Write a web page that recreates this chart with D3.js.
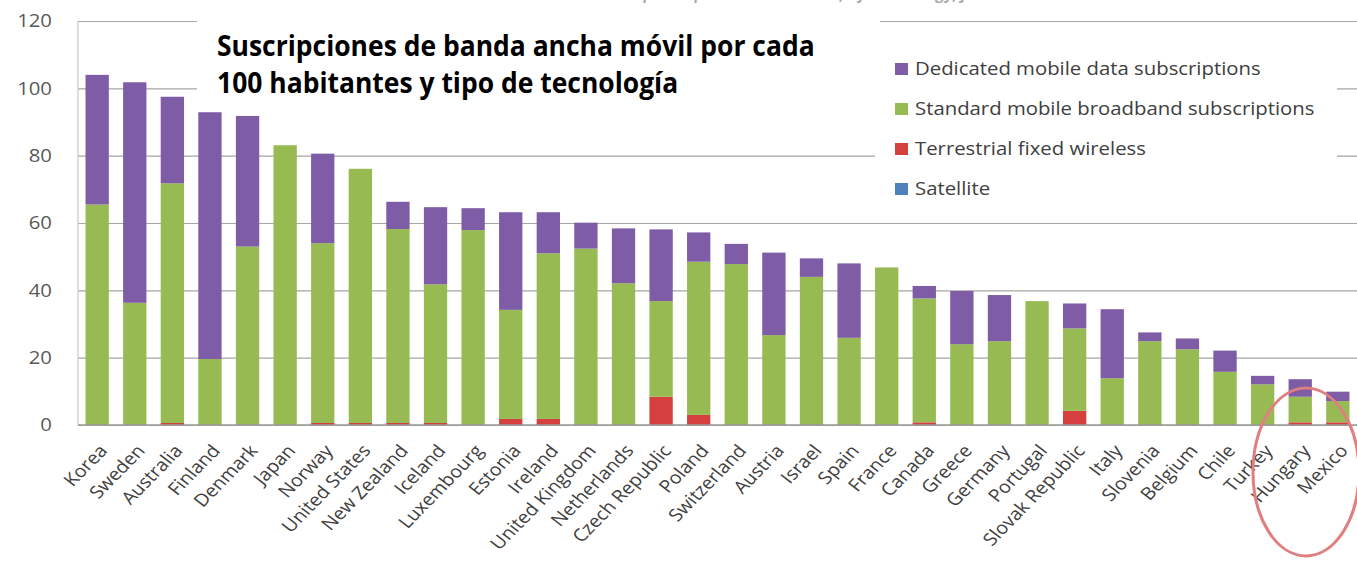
<!DOCTYPE html>
<html>
<head>
<meta charset="utf-8">
<script src="https://cdn.jsdelivr.net/npm/d3@7"></script>
<style>
  body { margin: 0; background: #fff; }
  svg { display: block; font-family: "Open Sans", sans-serif; }
</style>
</head>
<body>
<div id="chart-area"></div>
<script>
// datos (suscripciones por cada 100 habitantes)
var countries = ["Korea", "Sweden", "Australia", "Finland", "Denmark", "Japan", "Norway",
    "United States", "New Zealand", "Iceland", "Luxembourg", "Estonia", "Ireland",
    "United Kingdom", "Netherlands", "Czech Republic", "Poland", "Switzerland", "Austria",
    "Israel", "Spain", "France", "Canada", "Greece", "Germany", "Portugal",
    "Slovak Republic", "Italy", "Slovenia", "Belgium", "Chile", "Turkey", "Hungary", "Mexico"];

var satellite   = [0, 0, 0, 0, 0, 0, 0, 0, 0, 0, 0, 0, 0, 0, 0, 0, 0, 0, 0, 0, 0, 0, 0, 0, 0, 0, 0, 0, 0, 0, 0, 0, 0, 0];
var terrestrial = [0, 0, 0.6, 0, 0, 0, 0.6, 0.6, 0.6, 0.6, 0, 1.8, 1.8, 0, 0, 8.4, 3.0, 0, 0, 0, 0, 0, 0.8, 0, 0, 0, 4.2, 0, 0, 0, 0, 0, 0.8, 0.8];
var standard    = [65.5, 36.3, 71.2, 19.6, 53.0, 83.1, 53.4, 75.5, 57.6, 41.2, 57.9, 32.4, 49.2, 52.4, 42.1, 28.4, 45.5, 47.8, 26.7, 44.0, 25.9, 46.8, 36.8, 24.0, 24.9, 36.8, 24.5, 13.9, 24.9, 22.5, 15.8, 12.1, 7.6, 6.3];
var dedicated   = [38.5, 65.5, 25.7, 73.3, 38.8, 0, 26.6, 0, 8.1, 22.9, 6.5, 29.0, 12.2, 7.7, 16.3, 21.3, 8.7, 6.0, 24.5, 5.5, 22.1, 0, 3.7, 15.8, 13.7, 0, 7.4, 20.5, 2.6, 3.2, 6.3, 2.5, 5.2, 2.8];

var yTicks = [0, 20, 40, 60, 80, 100, 120];

var seriesNames = ["Dedicated mobile data subscriptions", "Standard mobile broadband subscriptions",
    "Terrestrial fixed wireless", "Satellite"];
var titleLines = ["Suscripciones de banda ancha móvil por cada", "100 habitantes y tipo de tecnología"];

// colores de cada serie
var colors = {
    satellite: "#4f81bd",
    terrestrial: "#d5403f",
    standard: "#97bb52",
    dedicated: "#7e5ca6"
};

var W = 1357, H = 562;
var plot = { left: 78, right: 1357, top: 21, bottom: 425 };
var stretch = 1.13; // la imagen original esta estirada a lo ancho

var svg = d3.select("#chart-area")
    .append("svg")
    .attr("width", W)
    .attr("height", H);

// tabla para apilar
var table = countries.map(function(c, i) {
    return {
        country: c,
        satellite: satellite[i],
        terrestrial: terrestrial[i],
        standard: standard[i],
        dedicated: dedicated[i]
    };
});
var keys = ["satellite", "terrestrial", "standard", "dedicated"];
var stacked = d3.stack().keys(keys)(table);

var x = d3.scaleBand()
    .domain(countries)
    .range([plot.left, plot.right])
    .paddingInner(0.38)
    .paddingOuter(0.2);

var y = d3.scaleLinear()
    .domain([0, 120])
    .range([plot.bottom, plot.top]);

// lineas de cuadricula
svg.append("g")
    .attr("transform", "translate(" + plot.left + ",0)")
    .call(d3.axisLeft(y).tickValues(yTicks).tickSize(-(plot.right - plot.left)).tickFormat(""))
    .call(function(g) {
        g.select(".domain").remove();
        g.selectAll("line").attr("stroke", "#a6a6a6").attr("stroke-width", 1.2);
    });

// eje vertical
svg.append("line")
    .attr("x1", plot.left).attr("x2", plot.left)
    .attr("y1", plot.top).attr("y2", plot.bottom)
    .attr("stroke", "#c8c8c8").attr("stroke-width", 1.2);

// barras apiladas
svg.append("g")
    .selectAll("g")
    .data(stacked)
    .enter().append("g")
    .attr("fill", function(d) { return colors[d.key]; })
    .selectAll("rect")
    .data(function(d) { return d; })
    .enter().append("rect")
    .attr("x", function(d) { return x(d.data.country); })
    .attr("y", function(d) { return y(d[1]); })
    .attr("width", x.bandwidth())
    .attr("height", function(d) { return Math.max(0, y(d[0]) - y(d[1])); });

// linea del cero
svg.append("line")
    .attr("x1", plot.left).attr("x2", plot.right)
    .attr("y1", y(0)).attr("y2", y(0))
    .attr("stroke", "#9a9a9a").attr("stroke-width", 1.3);

// etiquetas del eje Y
svg.append("g")
    .selectAll("text")
    .data(yTicks)
    .enter().append("text")
    .attr("transform", function(d) { return "translate(52," + y(d) + ") scale(" + stretch + ",1)"; })
    .attr("dy", "0.35em")
    .attr("text-anchor", "end")
    .attr("fill", "#595959")
    .style("font-size", "18px")
    .text(function(d) { return d; });

// etiquetas de paises (rotadas)
svg.append("g")
    .selectAll("text")
    .data(countries)
    .enter().append("text")
    .attr("transform", function(d) {
        return "translate(" + (x(d) + x.bandwidth() / 2 + 3) + ",445) scale(" + stretch + ",1) rotate(-49)";
    })
    .attr("dy", "0.55em")
    .attr("text-anchor", "end")
    .attr("fill", "#404040")
    .style("font-size", "17.5px")
    .text(function(d) { return d; });

// restos del titulo original (casi tapado)
svg.append("text")
    .attr("x", 740)
    .attr("y", 0)
    .attr("text-anchor", "middle")
    .attr("fill", "#aaa")
    .style("font-size", "15px")
    .style("font-weight", "bold")
    .text("Mobile broadband subscriptions per 100 inhabitants, by technology, June 2012");

// recuadro blanco del titulo
svg.append("rect")
    .attr("x", 197).attr("y", 12)
    .attr("width", 683).attr("height", 100)
    .attr("fill", "#fff");

var title = svg.append("g")
    .selectAll("text")
    .data(titleLines)
    .enter().append("text")
    .attr("fill", "#000")
    .style("font-size", "29px")
    .style("font-weight", "bold")
    .text(function(d) { return d; });

// ajustar el ancho del titulo al de la imagen
var firstLen = title.node().getComputedTextLength();
var titleScale = 598 / firstLen;
title.attr("transform", function(d, i) {
    return "translate(217," + (56 + i * 37) + ") scale(" + titleScale + ",1)";
});

// leyenda
svg.append("rect")
    .attr("x", 875).attr("y", 27)
    .attr("width", 462).attr("height", 191)
    .attr("fill", "#fff");

var legendKeys = ["dedicated", "standard", "terrestrial", "satellite"];
var legend = svg.append("g")
    .selectAll("g")
    .data(legendKeys)
    .enter().append("g")
    .attr("transform", function(d, i) { return "translate(895," + (69 + i * 40) + ")"; });

legend.append("rect")
    .attr("x", 0).attr("y", -6)
    .attr("width", 13).attr("height", 12)
    .attr("fill", function(d) { return colors[d]; });

legend.append("text")
    .attr("transform", "translate(20,0) scale(" + stretch + ",1)")
    .attr("dy", "0.35em")
    .attr("fill", "#404040")
    .style("font-size", "18px")
    .text(function(d, i) { return seriesNames[i]; });

// elipse roja marcando Hungary y Mexico
svg.append("ellipse")
    .attr("cx", 1306).attr("cy", 472)
    .attr("rx", 53).attr("ry", 84)
    .attr("fill", "none")
    .attr("stroke", "#df7f80")
    .attr("stroke-width", 3);
</script>
</body>
</html>
